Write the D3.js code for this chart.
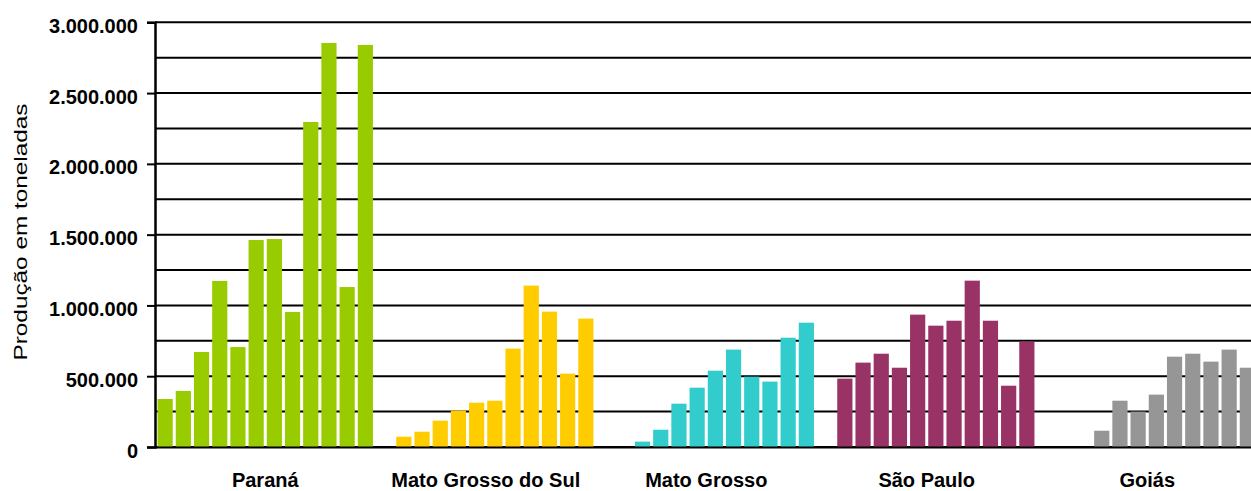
<!DOCTYPE html>
<html>
<head>
<meta charset="utf-8">
<script src="https://cdn.jsdelivr.net/npm/d3@7"></script>
<style>
  body { margin: 0; background: #ffffff; }
  svg { display: block; font-family: "Liberation Sans", Arial, sans-serif; }
</style>
</head>
<body>
<svg id="chart" width="1251" height="491"></svg>
<script>
// Data (tonnes); null = no bar drawn
var estados = ["Paraná", "Mato Grosso do Sul", "Mato Grosso", "São Paulo", "Goiás"];
var anos = ["1", "2", "3", "4", "5", "6", "7", "8", "9", "10", "11", "12"];
var cores = ["#99cc00", "#ffcc00", "#33cccc", "#993366", "#969696"];

var parana = [339000, 396000, 671000, 1173000, 706000, 1462000, 1469000, 954000, 2296000, 2854000, 1130000, 2840000];
var matoGrossoSul = [null, 73000, 108000, 186000, 257000, 313000, 327000, 695000, 1140000, 956000, 518000, 907000];
var matoGrosso = [null, null, 38000, 122000, 306000, 419000, 539000, 688000, 497000, 462000, 772000, 878000];
var saoPaulo = [null, 483000, 596000, 659000, 560000, 935000, 857000, 892000, 1175000, 892000, 433000, 744000];
var goias = [null, null, null, 115000, 327000, 250000, 370000, 638000, 659000, 603000, 688000, 560000];

var yTicks = d3.range(0, 3000001, 250000);
var yLabels = d3.range(0, 3000001, 500000);

var producao = [parana, matoGrossoSul, matoGrosso, saoPaulo, goias];

var svg = d3.select("#chart");
var plotLeft = 155, plotTop = 22.3, plotBottom = 447, groupW = 220.5;

var x0 = d3.scaleBand().domain(estados).range([plotLeft, plotLeft + groupW * estados.length]);
var x1 = d3.scaleBand().domain(anos).range([0, groupW]).paddingInner(0.165).paddingOuter(0.14);
var y = d3.scaleLinear().domain([0, 3000000]).range([plotBottom, plotTop]);
var fmt = function (v) { return d3.format(",")(v).replace(/,/g, "."); };

// horizontal gridlines every 250.000
svg.append("g")
  .selectAll("line")
  .data(yTicks)
  .enter()
  .append("line")
  .attr("x1", plotLeft)
  .attr("x2", 1260)
  .attr("y1", function (d) { return y(d); })
  .attr("y2", function (d) { return y(d); })
  .attr("stroke", "#000")
  .attr("stroke-width", 2);

// bars, one group per state
var groups = svg.append("g")
  .selectAll("g")
  .data(estados)
  .enter()
  .append("g")
  .attr("transform", function (d) { return "translate(" + x0(d) + ",0)"; });

groups.selectAll("rect")
  .data(function (d, i) {
    return producao[i].map(function (v, j) { return { ano: anos[j], v: v, c: cores[i] }; })
      .filter(function (e) { return e.v !== null; });
  })
  .enter()
  .append("rect")
  .attr("x", function (d) { return x1(d.ano); })
  .attr("width", x1.bandwidth())
  .attr("y", function (d) { return y(d.v); })
  .attr("height", function (d) { return y(0) - y(d.v); })
  .attr("fill", function (d) { return d.c; });

// baseline over the bars
svg.append("line")
  .attr("x1", plotLeft).attr("x2", 1260)
  .attr("y1", y(0) + 0.5).attr("y2", y(0) + 0.5)
  .attr("stroke", "#000").attr("stroke-width", 2);

// y axis with ticks at 500.000
var yAxis = d3.axisLeft(y).tickValues(yLabels).tickSize(8).tickPadding(9).tickFormat(fmt);
var gy = svg.append("g").attr("transform", "translate(" + plotLeft + ",0)").call(yAxis);
gy.select(".domain").attr("stroke", "#000").attr("stroke-width", 2.5);
gy.selectAll(".tick line").attr("stroke", "#000").attr("stroke-width", 2);
gy.selectAll(".tick text")
  .attr("fill", "#000")
  .attr("font-size", "20px")
  .attr("font-weight", "bold")
  .attr("font-family", "'Liberation Sans', Arial, sans-serif")
  .attr("dy", "0.5em");

// category labels
svg.append("g")
  .selectAll("text")
  .data(estados)
  .enter()
  .append("text")
  .attr("x", function (d) { return x0(d) + groupW / 2; })
  .attr("y", 487)
  .attr("text-anchor", "middle")
  .attr("font-size", "20px")
  .attr("font-weight", "bold")
  .attr("fill", "#000")
  .text(function (d) { return d; });

// y axis title (stretched like the original)
svg.append("text")
  .attr("transform", "translate(26.5,232) rotate(-90)")
  .attr("text-anchor", "middle")
  .attr("font-size", "18.5px")
  .attr("fill", "#000")
  .attr("textLength", 257)
  .attr("lengthAdjust", "spacingAndGlyphs")
  .text("Produção em toneladas");
</script>
</body>
</html>
